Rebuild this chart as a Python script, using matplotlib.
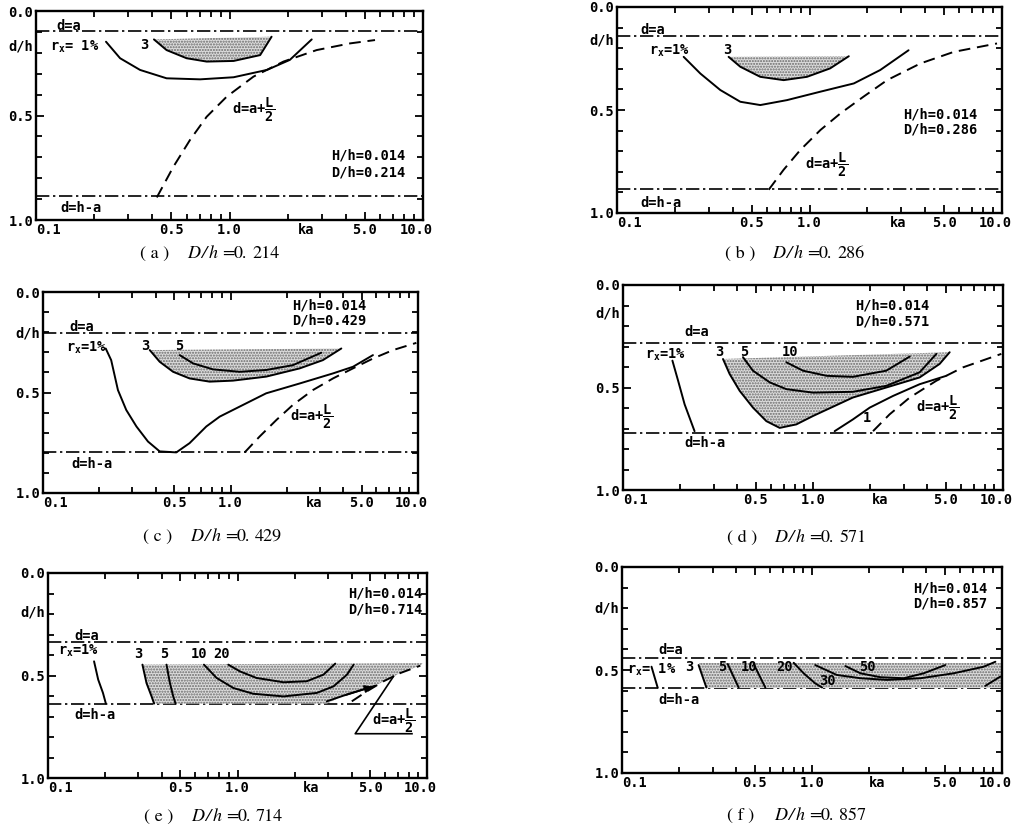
import matplotlib
matplotlib.use('Agg')
import matplotlib.pyplot as plt
import matplotlib.transforms as mtrans
from matplotlib.ticker import FixedLocator, NullFormatter

plt.rcParams['mathtext.fontset'] = 'custom'
plt.rcParams['mathtext.rm'] = 'DejaVu Sans Mono:bold'
plt.rcParams['mathtext.it'] = 'DejaVu Sans Mono:bold'
plt.rcParams['mathtext.bf'] = 'DejaVu Sans Mono:bold'
plt.rcParams['hatch.linewidth'] = 1.0

# ---------------- axis ticks ----------------
XTICKS = [0.1, 0.5, 1.0, 5.0, 10.0]
XTICK_LABELS = ['0.1', '0.5', '1.0', '5.0', '10.0']
XMINOR = [0.2, 0.3, 0.4, 0.6, 0.7, 0.8, 0.9, 2, 3, 4, 6, 7, 8, 9]
YTICKS = [0.0, 0.5, 1.0]
YTICK_LABELS = ['0.0', '0.5', '1.0']
YMINOR = [0.1, 0.2, 0.3, 0.4, 0.6, 0.7, 0.8, 0.9]

PANEL_LETTERS = ['a', 'b', 'c', 'd', 'e', 'f']
H_RATIO = '0.014'
D_RATIOS = ['0.214', '0.286', '0.429', '0.571', '0.714', '0.857']
LINE_DA = [0.095, 0.140, 0.203, 0.284, 0.335, 0.444]      # d = a
LINE_DHA = [0.885, 0.885, 0.798, 0.721, 0.637, 0.585]     # d = h - a

# ---------------- panel (a) ----------------
A_R1_KA = [0.230, 0.272, 0.345, 0.473, 0.705, 1.05, 1.56, 2.05, 2.66]
A_R1_D = [0.147, 0.226, 0.282, 0.322, 0.327, 0.317, 0.282, 0.234, 0.136]
A_R3_KA = [0.407, 0.473, 0.60, 0.762, 1.05, 1.44, 1.65]
A_R3_D = [0.136, 0.187, 0.226, 0.242, 0.239, 0.211, 0.123]
A_L2_KA = [0.421, 0.513, 0.625, 0.762, 0.967, 1.33, 1.90, 2.82, 4.20, 5.65]
A_L2_D = [0.892, 0.745, 0.617, 0.506, 0.410, 0.314, 0.242, 0.187, 0.155, 0.139]

# ---------------- panel (b) ----------------
B_R1_KA = [0.222, 0.271, 0.344, 0.437, 0.555, 0.764, 1.14, 1.70, 2.33, 3.27]
B_R1_D = [0.242, 0.323, 0.403, 0.460, 0.476, 0.452, 0.411, 0.371, 0.306, 0.210]
B_R3_KA = [0.380, 0.437, 0.555, 0.734, 0.970, 1.28, 1.60]
B_R3_D = [0.242, 0.290, 0.339, 0.355, 0.339, 0.298, 0.239]
B_L2_KA = [0.614, 0.734, 0.896, 1.14, 1.45, 1.91, 2.53, 3.77, 5.61, 9.42]
B_L2_D = [0.887, 0.790, 0.694, 0.597, 0.516, 0.435, 0.355, 0.274, 0.218, 0.177]

# ---------------- panel (c) ----------------
C_R1_KA = [0.216, 0.231, 0.251, 0.278, 0.315, 0.363, 0.419, 0.514, 0.605, 0.743,
           0.876, 1.12, 1.55, 2.34, 3.52, 4.50, 5.75]
C_R1_D = [0.281, 0.339, 0.488, 0.587, 0.669, 0.744, 0.793, 0.798, 0.752, 0.669,
          0.620, 0.570, 0.504, 0.455, 0.405, 0.372, 0.314]
C_R3_KA = [0.371, 0.419, 0.494, 0.605, 0.774, 1.03, 1.55, 2.34, 3.11, 3.90]
C_R3_D = [0.289, 0.347, 0.397, 0.430, 0.446, 0.441, 0.421, 0.380, 0.339, 0.281]
C_R5_KA = [0.536, 0.631, 0.807, 1.12, 1.55, 2.15, 3.05]
C_R5_D = [0.314, 0.355, 0.385, 0.397, 0.388, 0.364, 0.302]
C_L2_KA = [1.19, 1.43, 1.76, 2.15, 2.75, 3.52, 4.50, 5.75, 7.36, 9.8]
C_L2_D = [0.798, 0.719, 0.636, 0.562, 0.488, 0.430, 0.380, 0.331, 0.289, 0.253]

# ---------------- panel (d) ----------------
D_R1_KA = [0.182, 0.195, 0.211, 0.238]
D_R1_D = [0.369, 0.467, 0.582, 0.713]
D_R3_KA = [0.336, 0.364, 0.411, 0.483, 0.568, 0.668, 0.817, 1.0, 1.62, 2.43, 3.64, 4.64, 5.24]
D_R3_D = [0.361, 0.434, 0.516, 0.598, 0.664, 0.697, 0.680, 0.639, 0.549, 0.500, 0.451, 0.385, 0.328]
D_R5_KA = [0.428, 0.483, 0.592, 0.724, 1.0, 1.62, 2.43, 3.64, 4.46]
D_R5_D = [0.352, 0.418, 0.475, 0.508, 0.525, 0.521, 0.492, 0.426, 0.336]
D_R10_KA = [0.724, 0.886, 1.18, 1.62, 2.43, 3.23]
D_R10_D = [0.377, 0.418, 0.443, 0.448, 0.418, 0.349]
D_R1B_KA = [1.30, 1.62, 1.99, 2.64, 3.64, 5.03]
D_R1B_D = [0.713, 0.656, 0.598, 0.541, 0.484, 0.443]
D_L2_KA = [2.07, 2.53, 3.23, 4.46, 6.15, 9.8]
D_L2_D = [0.713, 0.631, 0.549, 0.467, 0.402, 0.336]

# ---------------- panel (e) ----------------
E_R1_KA = [0.175, 0.184, 0.195, 0.202]
E_R1_D = [0.431, 0.520, 0.585, 0.637]
E_R3_KA = [0.315, 0.331, 0.352, 0.363]
E_R3_D = [0.447, 0.537, 0.602, 0.637]
E_R5_KA = [0.422, 0.440, 0.458, 0.471]
E_R5_D = [0.447, 0.537, 0.602, 0.637]
E_R10_KA = [0.665, 0.776, 0.951, 1.21, 1.75, 2.62, 3.21, 3.78, 4.10]
E_R10_D = [0.447, 0.512, 0.561, 0.589, 0.602, 0.585, 0.553, 0.496, 0.447]
E_R20_KA = [0.894, 1.03, 1.26, 1.75, 2.32, 2.84, 3.28]
E_R20_D = [0.447, 0.480, 0.512, 0.533, 0.528, 0.496, 0.442]
E_ARROW_KA = [2.96, 3.63, 5.33]
E_ARROW_D = [0.626, 0.598, 0.550]
E_L2_KA = [4.01, 4.82, 5.90, 7.23, 9.22]
E_L2_D = [0.626, 0.577, 0.528, 0.488, 0.452]
E_SHADE_KA = [0.315, 9.5, 9.22, 7.23, 5.33, 3.63, 2.96, 0.363, 0.352, 0.331]
E_SHADE_D = [0.447, 0.440, 0.452, 0.488, 0.550, 0.598, 0.637, 0.637, 0.602, 0.537]

# ---------------- panel (f) ----------------
F_R1_KA = [0.143, 0.154]
F_R1_D = [0.484, 0.585]
F_R3_KA = [0.253, 0.278]
F_R3_D = [0.476, 0.585]
F_R5_KA = [0.360, 0.411]
F_R5_D = [0.471, 0.585]
F_R10_KA = [0.493, 0.568]
F_R10_D = [0.471, 0.585]
F_R20_KA = [0.801, 0.904, 1.04, 1.13]
F_R20_D = [0.465, 0.516, 0.565, 0.585]
F_R30_KA = [1.04, 1.35, 1.80, 2.48, 3.72, 5.57, 8.01, 9.23]
F_R30_D = [0.476, 0.524, 0.540, 0.548, 0.540, 0.516, 0.484, 0.460]
F_R50_KA = [1.50, 1.80, 2.29, 3.04, 3.87, 5.03]
F_R50_D = [0.481, 0.516, 0.535, 0.540, 0.516, 0.476]
F_EDGE_KA = [8.17, 9.8]
F_EDGE_D = [0.577, 0.532]
F_SHADE_KA = [0.253, 9.9, 9.9, 0.278]
F_SHADE_D = [0.465, 0.465, 0.585, 0.585]

KA_LABEL_X = [2.5, 2.9, 2.8, 2.25, 2.45, 2.2]
DH_LABEL_Y = [0.171, 0.161, 0.207, 0.139, 0.195, 0.202]

# ---------------- figure ----------------
W, H = 1022, 831
fig = plt.figure(figsize=(W / 100, H / 100), dpi=100)
fig.patch.set_facecolor('white')

AX_PX = [(36, 11, 423, 220), (617, 7, 1002, 213), (43, 292, 418, 493),
         (623, 285, 1003, 490), (48, 573, 427, 778), (622, 567, 1002, 773)]
CAP_PX = [(140, 254), (725, 254), (143, 537), (727, 538), (144, 817), (727, 816)]
CAP_OFFS = [0, 47, 61, 69, 82, 94, 112]

MONO = 'DejaVu Sans Mono'
FS = 9.8
DASHDOT = (0, (8, 2.2, 1.4, 2.2))
DASHED = (0, (6, 3.5))


def T(ax, x, y, s, ha='left', va='center', size=FS):
    ax.text(x, y, s, ha=ha, va=va, fontsize=size, family=MONO, fontweight='bold', zorder=5)


def setup(ax, i):
    ax.set_xscale('log')
    ax.set_xlim(0.1, 10)
    ax.set_ylim(1, 0)
    ax.xaxis.set_major_locator(FixedLocator(XTICKS))
    ax.set_xticklabels([''] + XTICK_LABELS[1:-1] + [''])
    ax.xaxis.set_minor_locator(FixedLocator(XMINOR))
    ax.xaxis.set_minor_formatter(NullFormatter())
    ax.yaxis.set_major_locator(FixedLocator(YTICKS))
    ax.set_yticklabels(YTICK_LABELS)
    ax.yaxis.set_minor_locator(FixedLocator(YMINOR))
    ax.tick_params(which='both', direction='in', top=True, right=True, width=1.3, colors='k')
    ax.tick_params(which='major', length=6, labelsize=FS, pad=2)
    ax.tick_params(which='minor', length=4.5)
    for lab in ax.get_xticklabels() + ax.get_yticklabels():
        lab.set_fontfamily(MONO)
        lab.set_fontweight('bold')
    for s in ax.spines.values():
        s.set_linewidth(1.7)
    tr = mtrans.blended_transform_factory(ax.transData, ax.transAxes)
    down = mtrans.ScaledTranslation(0, -2.0 / 72, fig.dpi_scale_trans)
    kw = dict(fontsize=FS, family=MONO, fontweight='bold')
    # edge tick labels placed like the original (0.1 starts at the spine, 10.0 pulled in)
    ax.text(XTICKS[0], 0, XTICK_LABELS[0], transform=tr + down, ha='left', va='top', **kw)
    ax.text(XTICKS[-1], 0, XTICK_LABELS[-1], va='top', ha='center',
            transform=tr + down + mtrans.ScaledTranslation(-7 / 100, 0, fig.dpi_scale_trans), **kw)
    ax.text(KA_LABEL_X[i], 0, 'ka', transform=tr + down, ha='center', va='top', **kw)
    tr2 = mtrans.blended_transform_factory(ax.transAxes, ax.transData)
    ax.text(-0.008, DH_LABEL_Y[i], 'd/h', transform=tr2, ha='right', va='center', **kw)
    ax.axhline(LINE_DA[i], color='k', lw=1.2, ls=DASHDOT)
    ax.axhline(LINE_DHA[i], color='k', lw=1.2, ls=DASHDOT)


def curve(ax, ka, d, ls='-'):
    ax.plot(ka, d, color='k', lw=1.4, ls=ls, solid_capstyle='round', zorder=4)


def shade(ax, ka, d):
    ax.fill(ka, d, facecolor='#dcdcdc', edgecolor='#6a6a6a', hatch='......', lw=0, zorder=2)


axes = []
for (l, t, r, b) in AX_PX:
    axes.append(fig.add_axes([l / W, 1 - b / H, (r - l) / W, (b - t) / H]))
for i, ax in enumerate(axes):
    setup(ax, i)

R1 = r'r$_{\mathrm{x}}$=1%'
HALF = r'd=a+$\dfrac{L}{2}$'

# (a)
ax = axes[0]
shade(ax, A_R3_KA, A_R3_D)
curve(ax, A_R1_KA, A_R1_D)
curve(ax, A_R3_KA, A_R3_D)
curve(ax, A_L2_KA, A_L2_D, DASHED)
T(ax, 0.128, 0.070, 'd=a')
T(ax, 0.133, 0.944, 'd=h-a')
T(ax, 0.118, 0.172, r'r$_{\mathrm{x}}$= 1%')
T(ax, 0.361, 0.163, '3', ha='center')
T(ax, 1.03, 0.474, HALF)
T(ax, 8.07, 0.689, 'H/h=' + H_RATIO, ha='right')
T(ax, 8.07, 0.774, 'D/h=' + D_RATIOS[0], ha='right')

# (b)
ax = axes[1]
shade(ax, B_R3_KA, B_R3_D)
curve(ax, B_R1_KA, B_R1_D)
curve(ax, B_R3_KA, B_R3_D)
curve(ax, B_L2_KA, B_L2_D, DASHED)
T(ax, 0.132, 0.113, 'd=a')
T(ax, 0.132, 0.952, 'd=h-a')
T(ax, 0.146, 0.215, R1)
T(ax, 0.373, 0.21, '3', ha='center')
T(ax, 0.951, 0.766, HALF)
T(ax, 7.41, 0.524, 'H/h=' + H_RATIO, ha='right')
T(ax, 7.41, 0.597, 'D/h=' + D_RATIOS[1], ha='right')

# (c)
ax = axes[2]
shade(ax, C_R3_KA, C_R3_D)
curve(ax, C_R1_KA, C_R1_D)
curve(ax, C_R3_KA, C_R3_D)
curve(ax, C_R5_KA, C_R5_D)
curve(ax, C_L2_KA, C_L2_D, DASHED)
T(ax, 0.139, 0.174, 'd=a')
T(ax, 0.142, 0.856, 'd=h-a')
T(ax, 0.133, 0.278, R1)
T(ax, 0.351, 0.269, '3', ha='center')
T(ax, 0.53, 0.269, '5', ha='center')
T(ax, 2.07, 0.62, HALF)
T(ax, 5.3, 0.066, 'H/h=' + H_RATIO, ha='right')
T(ax, 5.3, 0.140, 'D/h=' + D_RATIOS[2], ha='right')

# (d)
ax = axes[3]
shade(ax, D_R3_KA, D_R3_D)
curve(ax, D_R1_KA, D_R1_D)
curve(ax, D_R3_KA, D_R3_D)
curve(ax, D_R5_KA, D_R5_D)
curve(ax, D_R10_KA, D_R10_D)
curve(ax, D_R1B_KA, D_R1B_D)
curve(ax, D_L2_KA, D_L2_D, DASHED)
T(ax, 0.211, 0.230, 'd=a')
T(ax, 0.211, 0.770, 'd=h-a')
T(ax, 0.130, 0.340, R1)
T(ax, 0.323, 0.328, '3', ha='center')
T(ax, 0.432, 0.328, '5', ha='center')
T(ax, 0.754, 0.328, '10', ha='center')
T(ax, 1.91, 0.648, '1', ha='center')
T(ax, 3.5, 0.598, HALF)
T(ax, 4.11, 0.098, 'H/h=' + H_RATIO, ha='right')
T(ax, 4.11, 0.180, 'D/h=' + D_RATIOS[3], ha='right')

# (e)
ax = axes[4]
shade(ax, E_SHADE_KA, E_SHADE_D)
curve(ax, E_R1_KA, E_R1_D)
curve(ax, E_R3_KA, E_R3_D)
curve(ax, E_R5_KA, E_R5_D)
curve(ax, E_R10_KA, E_R10_D)
curve(ax, E_R20_KA, E_R20_D)
curve(ax, E_ARROW_KA, E_ARROW_D)
ax.annotate('', xy=(E_ARROW_KA[-1], E_ARROW_D[-1]), xytext=(E_ARROW_KA[-2], E_ARROW_D[-2]),
            arrowprops=dict(arrowstyle='-|>', color='k', lw=1.3, mutation_scale=11), zorder=4)
curve(ax, E_L2_KA, E_L2_D, DASHED)
ax.plot([6.66, 4.18, 8.33], [0.504, 0.784, 0.784], color='k', lw=1.2, zorder=4)
T(ax, 0.138, 0.306, 'd=a')
T(ax, 0.138, 0.691, 'd=h-a')
T(ax, 0.113, 0.378, R1)
T(ax, 0.299, 0.395, '3', ha='center')
T(ax, 0.410, 0.395, '5', ha='center')
T(ax, 0.628, 0.395, '10', ha='center')
T(ax, 0.825, 0.395, '20', ha='center')
T(ax, 5.12, 0.72, HALF)
T(ax, 9.41, 0.098, 'H/h=' + H_RATIO, ha='right')
T(ax, 9.41, 0.179, 'D/h=' + D_RATIOS[4], ha='right')

# (f)
ax = axes[5]
shade(ax, F_SHADE_KA, F_SHADE_D)
for ka, d in [(F_R1_KA, F_R1_D), (F_R3_KA, F_R3_D), (F_R5_KA, F_R5_D), (F_R10_KA, F_R10_D),
              (F_R20_KA, F_R20_D), (F_R30_KA, F_R30_D), (F_R50_KA, F_R50_D), (F_EDGE_KA, F_EDGE_D)]:
    curve(ax, ka, d)
T(ax, 0.156, 0.403, 'd=a')
T(ax, 0.156, 0.645, 'd=h-a')
T(ax, 0.106, 0.497, r'r$_{\mathrm{x}}$= 1%')
T(ax, 0.227, 0.487, '3', ha='center')
T(ax, 0.336, 0.487, '5', ha='center')
T(ax, 0.464, 0.487, '10', ha='center')
T(ax, 0.715, 0.487, '20', ha='center')
T(ax, 1.20, 0.552, '30', ha='center')
T(ax, 1.96, 0.484, '50', ha='center')
T(ax, 8.34, 0.105, 'H/h=' + H_RATIO, ha='right')
T(ax, 8.34, 0.177, 'D/h=' + D_RATIOS[5], ha='right')

# ---------------- captions (spaced like the CJK typesetting of the original) ----------------
for i, (x0, cy) in enumerate(CAP_PX):
    a, b = D_RATIOS[i].split('.')
    pieces = [('( %s )' % PANEL_LETTERS[i], 'normal'),
              ('D', 'italic'), ('/', 'italic'), ('h', 'italic'),
              ('=', 'normal'), (a + '.', 'normal'), (b, 'normal')]
    for (s, st), off in zip(pieces, CAP_OFFS):
        fig.text((x0 + off) / W, 1 - cy / H, s, family='STIXGeneral', style=st,
                 fontsize=13, va='center', ha='left')

fig.savefig('out.png', dpi=100, facecolor='white')
